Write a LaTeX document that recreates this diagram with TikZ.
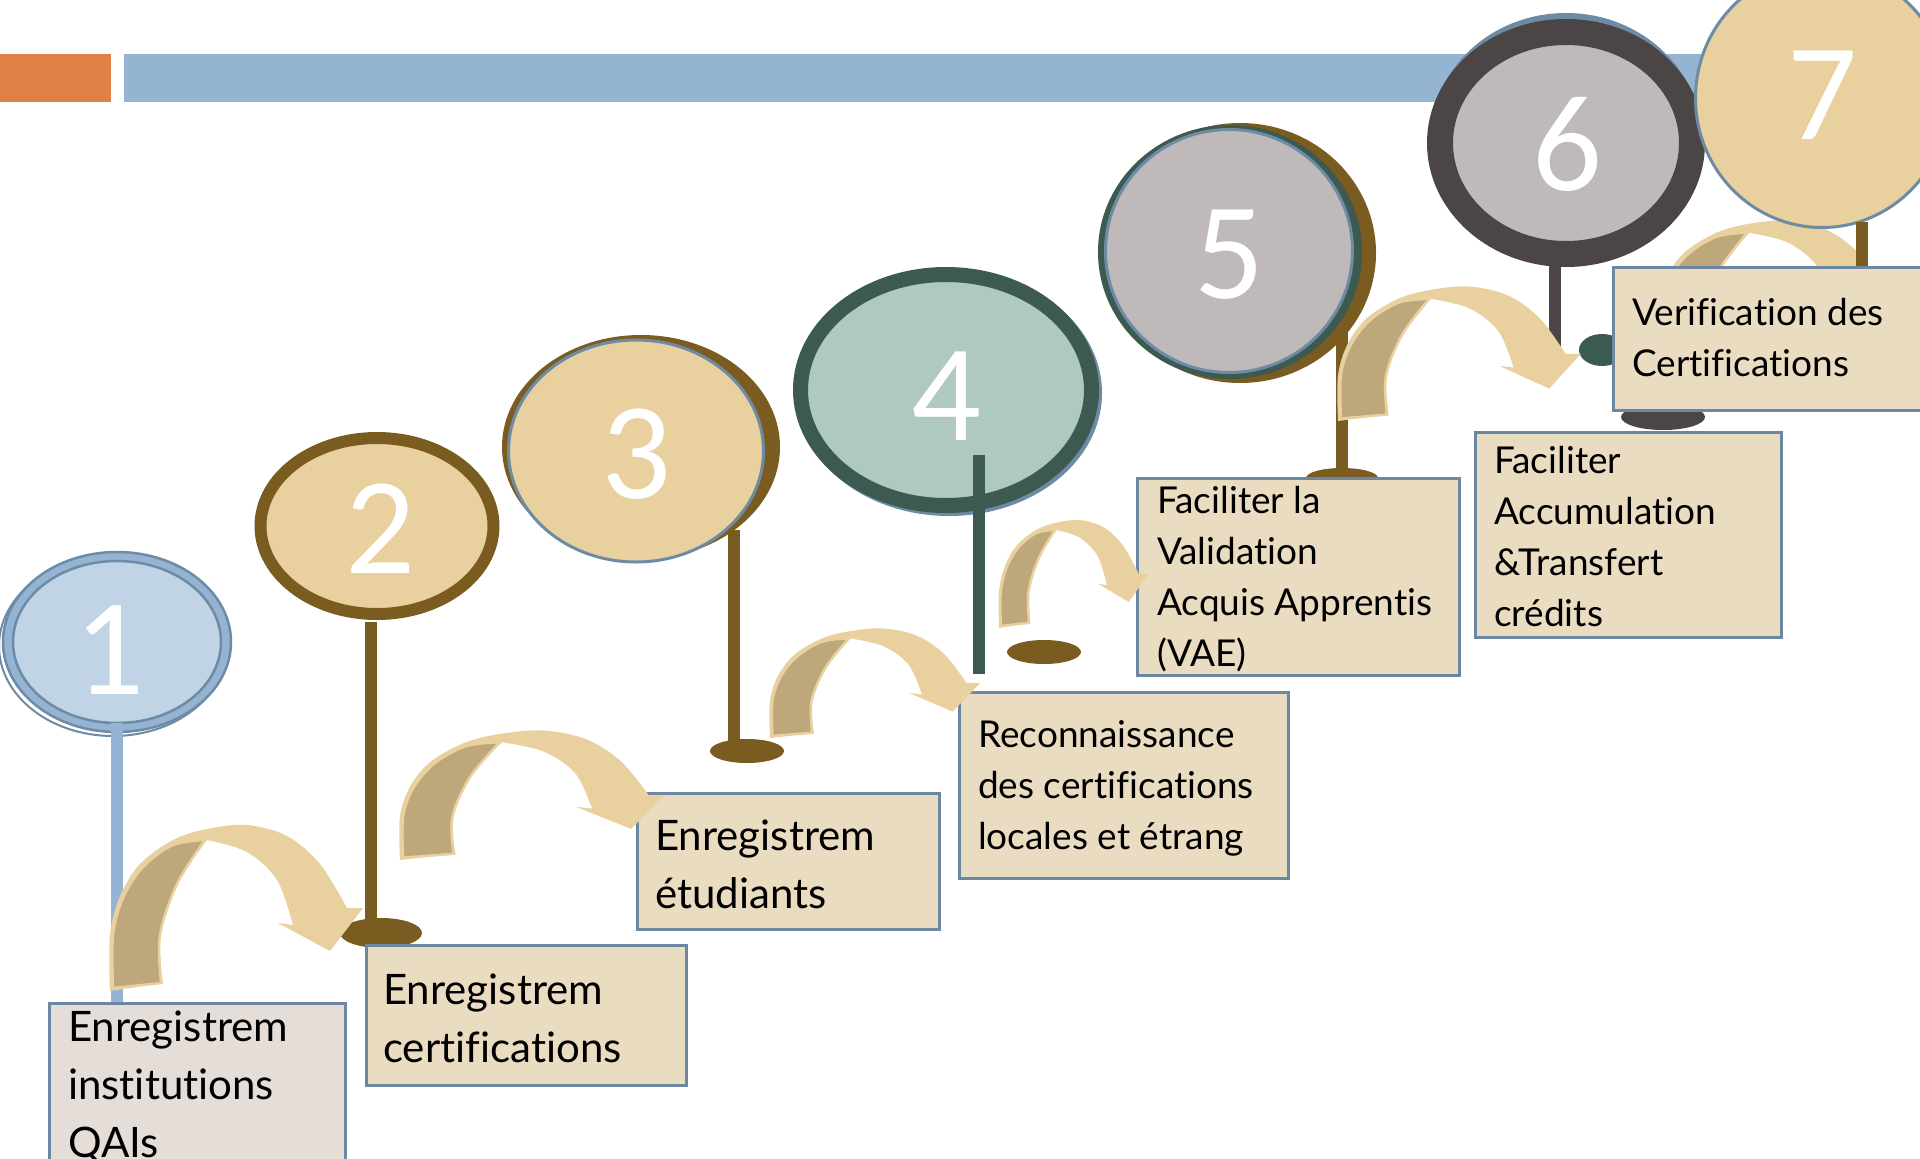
\documentclass[tikz,border=0pt]{standalone}
\usepackage{fontspec}
\newfontfamily\boxfont[Ligatures=NoCommon]{Lato}
\newfontfamily\digitfont{Carlito}
\usetikzlibrary{shapes.geometric}
\definecolor{orangebar}{HTML}{DF8047}
\definecolor{bluebar}{HTML}{95B4D2}
\definecolor{tanfill}{HTML}{E8D19E}
\definecolor{stembrown}{HTML}{7B5C20}
\definecolor{boxfill}{HTML}{EADCC0}
\definecolor{boxfillone}{HTML}{E5DDD8}
\definecolor{boxline}{HTML}{6B87A1}
\definecolor{tealfill}{HTML}{AFC9C2}
\definecolor{darkteal}{HTML}{3D5A51}
\definecolor{grayfill}{HTML}{C0B9B9}
\definecolor{darkring}{HTML}{4B4546}
\definecolor{arrowlight}{HTML}{E8D19E}
\definecolor{arrowdark}{HTML}{BEA77B}
\definecolor{paleblue}{HTML}{C0D4E5}
\definecolor{ringblue}{HTML}{95B4D3}
\definecolor{edgeblue}{HTML}{6E8BA6}
\newcommand\boxlines[1]{\begin{tabular}[t]{@{}l@{}}#1\end{tabular}}
\tikzset{
  disc/.style={ellipse, inner sep=0pt, outer sep=0pt},
  stepbox/.style={rectangle, draw=boxline, line width=3pt, fill=boxfill, anchor=north west, inner sep=0pt},
  bigtext/.style={font=\boxfont\fontsize{42}{58}\selectfont, inner sep=0pt, anchor=base west},
  smalltext/.style={font=\boxfont\fontsize{37}{51}\selectfont, inner sep=0pt, anchor=base west},
  digit/.style={font=\digitfont\fontsize{138}{140}\selectfont, text=white, inner sep=0pt},
  stem/.style={line width=12pt},
  curvarrow/.pic={
    \fill[arrowlight] plot[smooth,tension=0.55] coordinates {(0,0) (0,-56) (10,-95) (30,-127) (63,-151) (97,-162) (137,-166) (177,-155) (210,-127) (237,-83)}
      -- (253,-83) -- (220,-40) -- (168,-68)
      -- plot[smooth,tension=0.55] coordinates {(183,-66) (167,-111) (137,-139) (97,-151)}
      -- plot[smooth,tension=0.55] coordinates {(97,-151) (67,-107) (50,-56) (53,-8)} -- cycle;
    \filldraw[fill=arrowdark, draw=arrowlight, line width=2.5pt]
      plot[smooth,tension=0.55] coordinates {(3,-3) (3,-56) (13,-93) (33,-124) (63,-146) (95,-151)}
      -- plot[smooth,tension=0.55] coordinates {(95,-151) (67,-107) (50,-56) (51,-8)} -- cycle;
  }
}
\begin{document}
\begin{tikzpicture}[x=1pt,y=-1pt]
\useasboundingbox (0,0) rectangle (1920,1159);
\clip (0,0) rectangle (1920,1159);
\fill[white] (0,0) rectangle (1920,1159);
% top bars
\fill[orangebar] (0,54) rectangle (111,102);
\fill[bluebar] (124,54) rectangle (1800,102);
% arrow behind box 6
\pic[xscale=0.96,yscale=0.81] (a6) at (1656,355) {curvarrow};
% stem coordinates
\coordinate (s2) at (371,622);
\coordinate (s3) at (734,530);
\coordinate (s4) at (979,455);
\coordinate (s4e) at (979,674);
\coordinate (s5) at (1342,318);
\coordinate (s6) at (1555,255);
\coordinate (s7) at (1862,222);
% feet
\node[disc, fill=stembrown, minimum width=82pt, minimum height=30pt] (f2) at (381,933) {};
\node[disc, fill=stembrown, minimum width=74pt, minimum height=24pt] (f3) at (747,751) {};
\node[disc, fill=stembrown, minimum width=74pt, minimum height=24pt] (f4) at (1044,652) {};
\node[disc, fill=stembrown, minimum width=72pt, minimum height=20pt] (f5) at (1342,478) {};
\node[disc, fill=darkteal, minimum width=46pt, minimum height=32pt] (f6) at (1602,350) {};
\node[disc, fill=darkring, minimum width=84pt, minimum height=26pt] (f6b) at (1663,417) {};
% stems (behind circles)
\draw[stem, stembrown] (s2) -- (s2 |- f2.center);
\draw[stem, stembrown] (s3) -- (s3 |- f3.center);
\draw[stem, stembrown] (s5) -- (s5 |- f5.center);
\draw[stem, darkring] (s6) -- (s6 |- f6.center);
% circle 1
\node[disc, draw=edgeblue, line width=2pt, minimum width=228pt, minimum height=180pt] (c1s) at (113,646) {};
\node[disc, fill=ringblue, draw=edgeblue, line width=2.5pt, minimum width=228pt, minimum height=180pt] (c1) at (117,642) {};
\node[disc, fill=paleblue, draw=edgeblue, line width=2.5pt, minimum width=208pt, minimum height=162pt] (c1i) at (117,642) {};
% circle 2
\node[disc, fill=tanfill, draw=stembrown, line width=12pt, minimum width=233pt, minimum height=176pt] (c2) at (377,526) {};
% circle 3
\node[disc, fill=stembrown, minimum width=278pt, minimum height=224pt] (c3b) at (641,447) {};
\node[disc, fill=tanfill, draw=edgeblue, line width=3pt, minimum width=255pt, minimum height=222pt] (c3) at (636,451) {};
% circle 4
\node[disc, fill=edgeblue, minimum width=306pt, minimum height=246pt] (c4s) at (949,393) {};
\node[disc, fill=tealfill, draw=darkteal, line width=15pt, minimum width=291pt, minimum height=231pt] (c4) at (946,390) {};
% circle 5
\node[disc, fill=stembrown, minimum width=272pt, minimum height=260pt] (c5b) at (1240,253) {};
\node[disc, fill=darkteal, minimum width=264pt, minimum height=254pt] (c5m) at (1230,252) {};
\node[disc, fill=grayfill, draw=edgeblue, line width=3pt, minimum width=247pt, minimum height=243pt] (c5) at (1229,251) {};
% circle 6
\node[disc, fill=edgeblue, minimum width=270pt, minimum height=250pt] (c6s) at (1566,138) {};
\node[disc, fill=grayfill, draw=darkring, line width=26pt, minimum width=252pt, minimum height=222pt] (c6) at (1566,143) {};
% circle 7
\node[disc, fill=tanfill, draw=edgeblue, line width=3pt, minimum width=253pt, minimum height=259pt] (c7) at (1822,98) {};
% stems in front
\draw[stem, ringblue] (c1i.south) -- (c1i.south |- 0,1002);
\draw[stem, darkteal] (s4) -- (s4e);
\draw[stem, stembrown] (s7) -- (s7 |- 0,266);
% digits
\node[digit] (d1) at (109,650) {1};
\node[digit] (d2) at (380,529) {2};
\node[digit] (d3) at (636,454) {3};
\node[digit] (d4) at (946,396) {4};
\node[digit] (d5) at (1229,255) {5};
\node[digit] (d6) at (1567,144) {6};
\node[digit] (d7) at (1822,95) {7};
% boxes
\node[stepbox, fill=boxfillone, minimum width=296pt, minimum height=190pt] (b1) at (48,1002) {};
\node[stepbox, minimum width=320pt, minimum height=140pt] (b2) at (365,944) {};
\node[stepbox, minimum width=302pt, minimum height=136pt] (b3) at (636,792) {};
\node[stepbox, minimum width=329pt, minimum height=186pt] (b4) at (958,691) {};
\node[stepbox, minimum width=322pt, minimum height=197pt] (b5) at (1136,477) {};
\node[stepbox, minimum width=330pt, minimum height=143pt] (b6) at (1612,266) {};
\node[stepbox, minimum width=306pt, minimum height=205pt] (b7) at (1474,431) {};
% texts
\node[bigtext] (t1) at (68,1041) {\boxlines{Enregistrem\\institutions\\QAIs}};
\node[bigtext] (t2) at (383,1004) {\boxlines{Enregistrem\\certifications}};
\node[bigtext] (t3) at (655,850) {\boxlines{Enregistrem\\étudiants}};
\node[smalltext] (t4) at (978,747) {\boxlines{Reconnaissance\\des certifications\\locales et étrang}};
\node[smalltext] (t5) at (1157,513) {\boxlines{Faciliter la\\Validation\\Acquis Apprentis\\(VAE)}};
\node[smalltext] (t6) at (1632,325) {\boxlines{Verification des\\Certifications}};
\node[smalltext] (t7) at (1494,473) {\boxlines{Faciliter\\Accumulation\\\&Transfert\\crédits}};
% curved arrows
\pic (a1) at (110,991) {curvarrow};
\pic[xscale=1.05,yscale=0.78] (a2) at (400,860) {curvarrow};
\pic[xscale=0.83,yscale=0.66] (a3) at (770,738) {curvarrow};
\pic[xscale=0.59,yscale=0.65] (a4) at (999,628) {curvarrow};
\pic[xscale=0.96,yscale=0.81] (a5) at (1338,421) {curvarrow};
\end{tikzpicture}
\end{document}
